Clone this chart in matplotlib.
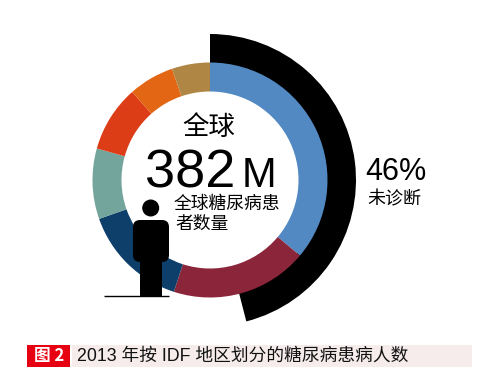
import matplotlib
matplotlib.use("Agg")
import matplotlib.pyplot as plt
from matplotlib.patches import Circle, FancyBboxPatch, Rectangle

plt.rcParams["font.family"] = ["Noto Sans CJK SC", "DejaVu Sans"]

# millions of patients by region, clockwise from the top
region_values = [138, 72, 56, 37, 35, 24, 20]
region_colors = ["#5289c3", "#8b2539", "#0e3f6b", "#74a59c",
                 "#dc3d17", "#e36614", "#b08644"]
# undiagnosed share, percent
undiagnosed = [46, 54]

W, H = 499, 387


def py(y):
    # picture rows run downwards, the axes upwards
    return H - y


fig = plt.figure(figsize=(W / 100, H / 100), dpi=100)
ax = fig.add_axes([0, 0, 1, 1])

center = (210, py(180))

ax.pie(
    undiagnosed,
    colors=["black", "none"],
    startangle=90,
    counterclock=False,
    center=center,
    radius=146,
    frame=True,
    wedgeprops={"width": 32, "linewidth": 0},
)
ax.pie(
    region_values,
    colors=region_colors,
    startangle=90,
    counterclock=False,
    center=center,
    radius=117.5,
    frame=True,
    wedgeprops={"width": 29, "linewidth": 0},
)

# person
ax.add_patch(Circle((150.7, py(208)), 8.5, color="black", lw=0))
ax.add_patch(FancyBboxPatch((139, py(256)), 24, 30,
                            boxstyle="round,pad=6,rounding_size=7",
                            color="black", lw=0))
ax.add_patch(Rectangle((140.5, py(296)), 21.5, 45, color="black", lw=0))
ax.plot([104, 169], [py(296), py(296)], color="black", lw=1,
        solid_capstyle="butt")

# centre text
ax.text(209, py(127), "全球", fontsize=19, ha="center", va="center")
ax.text(190, py(187), "382", fontsize=39, ha="center", va="baseline",
        family=["Liberation Sans"])
ax.text(259, py(187), "M", fontsize=30, ha="center", va="baseline",
        family=["Liberation Sans"])
ax.text(174, py(204), "全球糖尿病患", fontsize=12.8, ha="left", va="center",
        fontweight="light")
ax.text(175, py(224), "者数量", fontsize=12.8, ha="left", va="center",
        fontweight="light")

# right label
ax.text(396, py(172), "46%", fontsize=22, ha="center", va="center",
        family=["Liberation Sans"])
ax.text(394, py(199), "未诊断", fontsize=13, ha="center", va="center")

# caption bar
ax.add_patch(Rectangle((27.5, py(367)), 43, 22, color="#e60012", lw=0))
ax.add_patch(Rectangle((72, py(367)), 400, 22, color="#f6ecec", lw=0))
ax.text(49, py(356.5), "图 2", fontsize=12, color="white", ha="center",
        va="center", fontweight="bold")
ax.text(77, py(356.5), "2013 年按 IDF 地区划分的糖尿病患病人数", fontsize=12.75,
        color="#111111", ha="left", va="center",
        family=["Liberation Sans", "Noto Sans CJK SC"])

ax.set_xlim(0, W)
ax.set_ylim(0, H)
ax.set_aspect("equal")
ax.axis("off")

fig.savefig("out.png", dpi=100)
